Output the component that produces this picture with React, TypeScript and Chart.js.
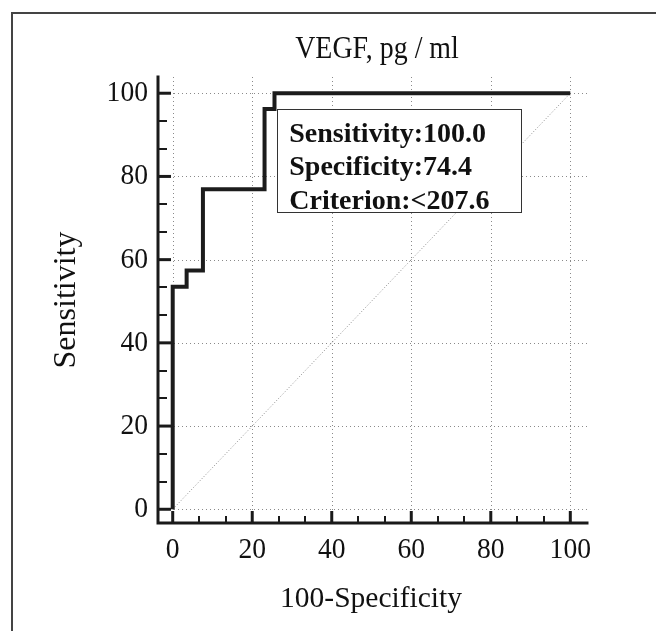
import React, { useEffect, useRef } from "react";
import { Chart, registerables } from "chart.js";

Chart.register(...registerables);

// ---- data ----
const fprValues = [0, 0, 3.5, 3.5, 7.6, 7.6, 23.1, 23.1, 25.6, 25.6, 100];
const tprValues = [0, 53.5, 53.5, 57.4, 57.4, 76.9, 76.9, 96.2, 96.2, 100, 100];
const refX = [0, 100];
const refY = [0, 100];
const majorTicks = [0, 20, 40, 60, 80, 100];
const minorPerMajor = 3;
const titleText = "VEGF, pg / ml";
const xTitle = "100-Specificity";
const yTitle = "Sensitivity";
const boxLines = ["Sensitivity:100.0", "Specificity:74.4", "Criterion:<207.6"];

const FONT = '"Liberation Serif", "Times New Roman", serif';

function drawText(
  ctx: CanvasRenderingContext2D,
  s: string,
  x: number,
  y: number,
  size: number,
  o: { bold?: boolean; align?: CanvasTextAlign; baseline?: CanvasTextBaseline; sx?: number; rotate?: boolean } = {}
) {
  ctx.save();
  ctx.translate(x, y);
  if (o.rotate) ctx.rotate(-Math.PI / 2);
  ctx.scale(o.sx ?? 1, 1);
  ctx.font = `${o.bold ? "bold " : ""}${size}px ${FONT}`;
  ctx.textAlign = o.align ?? "left";
  ctx.textBaseline = o.baseline ?? "alphabetic";
  ctx.fillStyle = "#111";
  ctx.fillText(s, 0, 0);
  ctx.restore();
}

const decor = {
  id: "rocDecor",
  beforeDatasetsDraw(chart: any) {
    const { ctx, chartArea: ca, scales } = chart;
    const xs = scales.x;
    const ys = scales.y;
    ctx.save();
    ctx.strokeStyle = "#8a8a8a";
    ctx.lineWidth = 1;
    ctx.setLineDash([1, 3]);
    for (const v of majorTicks) {
      const py = Math.round(ys.getPixelForValue(v)) + 0.5;
      ctx.beginPath();
      ctx.moveTo(ca.left, py);
      ctx.lineTo(ca.right, py);
      ctx.stroke();
      const px = Math.round(xs.getPixelForValue(v)) + 0.5;
      ctx.beginPath();
      ctx.moveTo(px, ca.top);
      ctx.lineTo(px, ca.bottom);
      ctx.stroke();
    }
    ctx.restore();
  },
  afterDatasetsDraw(chart: any) {
    const { ctx, chartArea: ca, scales } = chart;
    const xs = scales.x;
    const ys = scales.y;

    // info box
    const bl = xs.getPixelForValue(26.3);
    const br = xs.getPixelForValue(87.7);
    const bt = ys.getPixelForValue(96.2);
    const bb = ys.getPixelForValue(71.4);
    ctx.save();
    ctx.fillStyle = "#fff";
    ctx.fillRect(bl, bt, br - bl, bb - bt);
    ctx.strokeStyle = "#333";
    ctx.lineWidth = 1;
    ctx.strokeRect(Math.round(bl) + 0.5, Math.round(bt) + 0.5, Math.round(br - bl), Math.round(bb - bt));
    ctx.restore();
    boxLines.forEach((s, i) => {
      drawText(ctx, s, bl + 12, bt + 32.5 + i * 33.8, 28, { bold: true });
    });

    // axes
    ctx.save();
    ctx.strokeStyle = "#1a1a1a";
    ctx.lineWidth = 3;
    ctx.lineCap = "square";
    ctx.beginPath();
    ctx.moveTo(ca.left, ca.top);
    ctx.lineTo(ca.left, ca.bottom);
    ctx.lineTo(ca.right, ca.bottom);
    ctx.stroke();
    ctx.lineCap = "butt";
    const step = (majorTicks[1] - majorTicks[0]) / minorPerMajor;
    for (let k = 0; k < majorTicks.length; k++) {
      const v = majorTicks[k];
      // major
      ctx.lineWidth = 3;
      const px = xs.getPixelForValue(v);
      ctx.beginPath();
      ctx.moveTo(px, ca.bottom);
      ctx.lineTo(px, ca.bottom - 12);
      ctx.stroke();
      const py = ys.getPixelForValue(v);
      ctx.beginPath();
      ctx.moveTo(ca.left, py);
      ctx.lineTo(ca.left + 13, py);
      ctx.stroke();
      if (k < majorTicks.length - 1) {
        ctx.lineWidth = 2;
        for (let m = 1; m < minorPerMajor; m++) {
          const mv = v + m * step;
          const mx = Math.round(xs.getPixelForValue(mv));
          ctx.beginPath();
          ctx.moveTo(mx, ca.bottom);
          ctx.lineTo(mx, ca.bottom - 7);
          ctx.stroke();
          const my = Math.round(ys.getPixelForValue(mv));
          ctx.beginPath();
          ctx.moveTo(ca.left, my);
          ctx.lineTo(ca.left + 9, my);
          ctx.stroke();
        }
      }
    }
    ctx.restore();

    // tick labels
    for (const v of majorTicks) {
      drawText(ctx, String(v), ca.left - 10, ys.getPixelForValue(v), 30, { align: "right", baseline: "middle", sx: 0.92 });
      drawText(ctx, String(v), xs.getPixelForValue(v), ca.bottom + 27, 30, { align: "center", baseline: "middle", sx: 0.92 });
    }

    // titles
    drawText(ctx, titleText, 377, 58, 31, { align: "center", sx: 0.9 });
    drawText(ctx, xTitle, 371, 606.5, 29.5, { align: "center" });
    drawText(ctx, yTitle, 75, 300, 32, { align: "center", rotate: true });

    // outer frame
    ctx.save();
    ctx.strokeStyle = "#444";
    ctx.lineWidth = 2;
    ctx.strokeRect(12, 13, 800, 800);
    ctx.restore();
  },
};

export default function App() {
  const ref = useRef<HTMLCanvasElement | null>(null);
  useEffect(() => {
    if (!ref.current) return;
    const curve = fprValues.map((x, i) => ({ x, y: tprValues[i] }));
    const diag = refX.map((x, i) => ({ x, y: refY[i] }));
    const chart = new Chart(ref.current, {
      type: "line",
      data: {
        datasets: [
          {
            data: curve,
            borderColor: "#1c1c1c",
            borderWidth: 4,
            pointRadius: 0,
            tension: 0,
            fill: false,
            borderJoinStyle: "miter",
          },
          {
            data: diag,
            borderColor: "#8a8a8a",
            borderWidth: 1,
            borderDash: [1, 2],
            pointRadius: 0,
            fill: false,
          },
        ],
      },
      options: {
        animation: false,
        responsive: false,
        devicePixelRatio: 1,
        layout: { padding: { left: 158, right: 69, top: 77, bottom: 108 } },
        plugins: { legend: { display: false }, title: { display: false }, tooltip: { enabled: false } },
        scales: {
          x: { type: "linear", min: -3.7, max: 104.2, display: false },
          y: { type: "linear", min: -3.3, max: 103.9, display: false },
        },
      },
      plugins: [decor],
    } as any);
    return () => chart.destroy();
  }, []);
  return (
    <div style={{ position: "absolute", left: 0, top: 0, width: 656, height: 631, background: "#fff" }}>
      <canvas ref={ref} width={656} height={631} style={{ display: "block", width: 656, height: 631 }} />
    </div>
  );
}
